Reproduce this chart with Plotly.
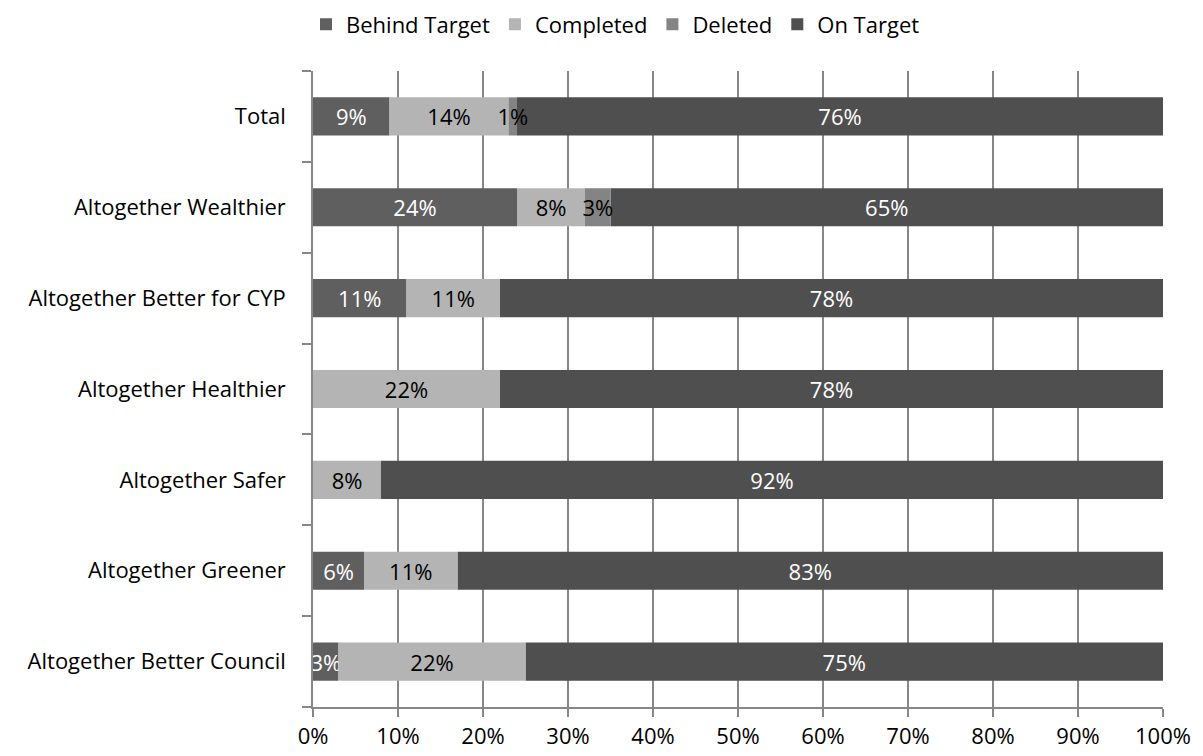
import plotly.graph_objects as go

categories = ["Total", "Altogether Wealthier", "Altogether Better for CYP",
              "Altogether Healthier", "Altogether Safer", "Altogether Greener",
              "Altogether Better Council"]
behind_target = [9, 24, 11, 0, 0, 6, 3]
completed = [14, 8, 11, 22, 8, 11, 22]
deleted = [1, 3, 0, 0, 0, 0, 0]
on_target = [76, 65, 78, 78, 92, 83, 75]
x_ticks = [0, 10, 20, 30, 40, 50, 60, 70, 80, 90, 100]

FONT = "Open Sans"
FS = 22

# stacking bases (cumulative) so drawing order can put small labels on top
base_behind = [0] * len(categories)
base_completed = [b for b in behind_target]
base_deleted = [b + c for b, c in zip(behind_target, completed)]
base_on = [b + c + d for b, c, d in zip(behind_target, completed, deleted)]

series = {
    "Behind Target": (behind_target, base_behind, "#5f5f5f", "white", 1),
    "Completed": (completed, base_completed, "#b4b4b4", "black", 2),
    "Deleted": (deleted, base_deleted, "#848484", "black", 3),
    "On Target": (on_target, base_on, "#4f4f4f", "white", 4),
}
draw_order = ["On Target", "Behind Target", "Completed", "Deleted"]

fig = go.Figure()
for name in draw_order:
    vals, base, color, tcolor, rank = series[name]
    fig.add_trace(go.Bar(
        name=name, y=categories, x=vals, base=base, orientation="h",
        legendrank=rank,
        marker=dict(color=color, line=dict(width=0)),
        text=[f"{v}%" if v else "" for v in vals],
        textposition="inside", insidetextanchor="middle", textangle=0,
        constraintext="none", cliponaxis=False,
        textfont=dict(color=tcolor, size=FS, family=FONT),
    ))

fig.update_layout(
    barmode="overlay", bargap=0.58,
    width=1203, height=756,
    margin=dict(l=305, r=48, t=63, b=57, autoexpand=False),
    paper_bgcolor="white", plot_bgcolor="white",
    font=dict(family=FONT, size=FS, color="black"),
    uniformtext=dict(minsize=FS, mode="show"),
    legend=dict(orientation="h", x=0.505, xanchor="center", xref="container",
                y=1.073, yanchor="middle", yref="paper",
                font=dict(size=FS), traceorder="normal", itemwidth=30),
    showlegend=True,
)
fig.update_xaxes(
    range=[0, 100], tickvals=x_ticks, ticktext=[f"{t}%" for t in x_ticks],
    showgrid=True, gridcolor="#878787", gridwidth=1.5,
    showline=True, linecolor="#878787", linewidth=1.5,
    ticks="outside", ticklen=8, tickcolor="#878787", tickwidth=1.5,
    ticklabelstandoff=1, zeroline=False, mirror=False, automargin=False,
)
fig.update_yaxes(
    categoryorder="array", categoryarray=categories[::-1],
    showline=True, linecolor="#878787", linewidth=1.5,
    ticks="outside", ticklen=9, tickcolor="#878787", tickwidth=1.5,
    tickson="boundaries", ticklabelstandoff=21, showgrid=False, automargin=False,
)

fig.write_html("out.html")
